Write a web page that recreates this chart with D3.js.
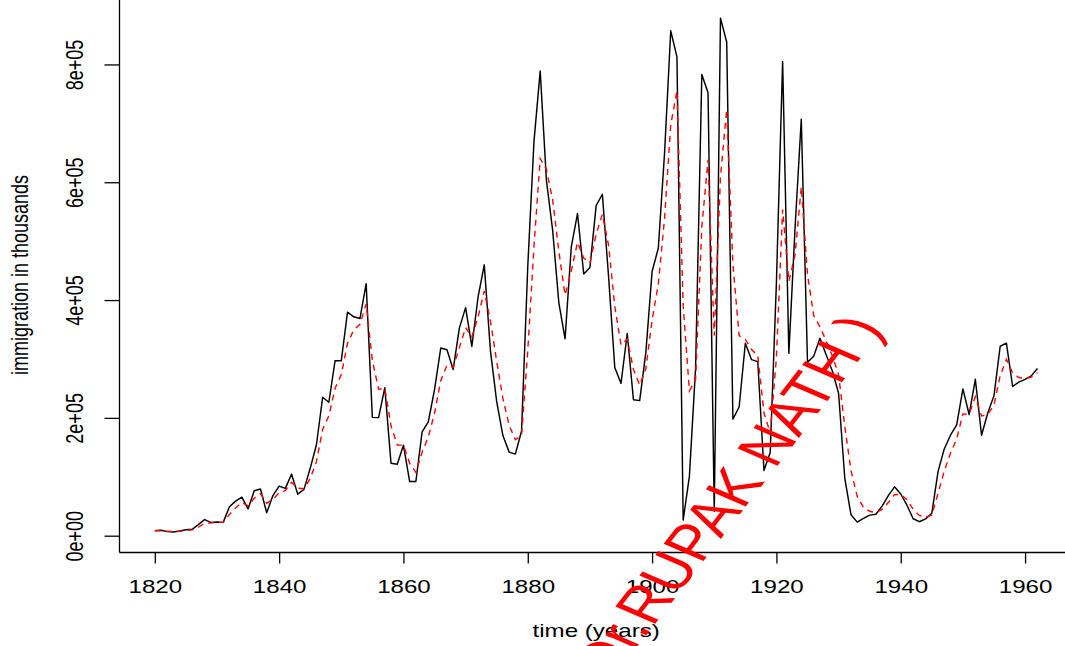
<!DOCTYPE html>
<html>
<head>
<meta charset="utf-8">
<script src="https://cdn.jsdelivr.net/npm/d3@7"></script>
<style>
  html, body { margin: 0; padding: 0; background: #ffffff; }
  svg { display: block; }
  text { font-family: "Liberation Sans", Arial, Helvetica, sans-serif; }
</style>
</head>
<body>
<svg id="chart" width="1065" height="646"></svg>
<script>
// Annual immigration, 1820-1962
const years = [
  1820,1821,1822,1823,1824,1825,1826,1827,1828,1829,
  1830,1831,1832,1833,1834,1835,1836,1837,1838,1839,
  1840,1841,1842,1843,1844,1845,1846,1847,1848,1849,
  1850,1851,1852,1853,1854,1855,1856,1857,1858,1859,
  1860,1861,1862,1863,1864,1865,1866,1867,1868,1869,
  1870,1871,1872,1873,1874,1875,1876,1877,1878,1879,
  1880,1881,1882,1883,1884,1885,1886,1887,1888,1889,
  1890,1891,1892,1893,1894,1895,1896,1897,1898,1899,
  1900,1901,1902,1903,1904,1905,1906,1907,1908,1909,
  1910,1911,1912,1913,1914,1915,1916,1917,1918,1919,
  1920,1921,1922,1923,1924,1925,1926,1927,1928,1929,
  1930,1931,1932,1933,1934,1935,1936,1937,1938,1939,
  1940,1941,1942,1943,1944,1945,1946,1947,1948,1949,
  1950,1951,1952,1953,1954,1955,1956,1957,1958,1959,
  1960,1961,1962
];

// Observed series (solid black)
const immigration = [
  8385,9127,6911,6354,7912,10199,10837,18875,27382,22520,
  23322,22633,49000,58640,65365,45374,76242,79340,38914,68069,
  84066,80289,104565,70500,78615,114371,154416,234968,226527,297024,
  297000,379466,371603,368645,427833,200877,200436,251306,123126,121282,
  153640,91918,91985,176282,193418,248120,318568,315722,282189,352768,
  387203,321350,404806,459803,313339,227498,169986,141857,138469,177826,
  457257,669431,788992,603322,518592,395346,334203,490109,546889,444427,
  455302,560319,579663,439730,285631,258536,343267,230832,229299,311715,
  448572,487918,648743,857046,812870,26499,100735,285349,782870,751786,
  41570,878587,838172,197892,218480,326700,298826,295403,110618,141132,
  430001,805228,309556,522919,706896,294314,304488,335175,307255,279678,
  241700,97139,35576,23068,29470,34956,36329,50244,67895,82998,
  70756,51776,28781,23725,28551,38119,108721,147292,170570,188317,
  249187,205717,265520,170434,208177,237790,321625,326867,253265,260686,
  265398,271344,283763
];

// Smoothed level (red dashed)
const smoothed = [
  8385,8756,7834,7094,7503,8851,9844,14360,20871,21696,
  22509,22571,35786,47213,56289,50832,63537,71439,55177,61623,
  72845,76567,90566,80533,79574,96973,125695,180332,203430,250227,
  273614,326540,349072,358859,393346,297112,248774,250040,186583,153933,
  153787,122853,107419,141851,167635,207878,263223,289473,285831,319300,
  353252,337301,371054,415429,364384,295941,232964,187411,162940,170383,
  313820,491626,640309,621816,570204,482775,408489,449299,498094,471261,
  463282,511801,545732,492731,389181,323859,333563,282198,255749,283732,
  366152,427035,537889,697468,755169,390834,245785,265567,524219,638003,
  339787,609187,723680,460786,339633,333167,315997,305700,208159,174646,
  302324,553776,431666,477293,592095,443205,373847,354511,330883,305281,
  273491,185315,110446,66757,48114,41535,38932,44588,56242,69620,
  70188,60982,44882,34304,31428,34774,71748,109520,140045,164181,
  206684,206201,235861,203148,205663,221727,271676,299272,276269,268478,
  266938,269141,276452
];

const xTicks = [1820, 1840, 1860, 1880, 1900, 1920, 1940, 1960];
const yTicks = [0, 200000, 400000, 600000, 800000];
const yTickLabels = ["0e+00", "2e+05", "4e+05", "6e+05", "8e+05"];
const xTitle = "time (years)";
const yTitle = "immigration in thousands";
const signature = "( Dr.RUPAK NATH )";

// ---- layout ----
const svg = d3.select("#chart");
const textStretch = 1.34;         // glyphs are set wide
const fontPx = 18;
const plotBox = { left: 119.5, right: 1072.8, top: -2.4, bottom: 552.5 };

// R-style 4% padding around the data range
const xExt = d3.extent(years);
const xPad = (xExt[1] - xExt[0]) * 0.04;
const x = d3.scaleLinear()
  .domain([xExt[0] - xPad, xExt[1] + xPad])
  .range([plotBox.left, plotBox.right]);

const yExt = d3.extent(immigration);
const yPad = (yExt[1] - yExt[0]) * 0.04;
const y = d3.scaleLinear()
  .domain([yExt[0] - yPad, yExt[1] + yPad])
  .range([plotBox.bottom, plotBox.top]);

// ---- series ----
const observedPts = years.map((yr, i) => ({ yr, v: immigration[i] }));
const smoothPts = years.map((yr, i) => ({ yr, v: smoothed[i] }));
const line = d3.line().x(d => x(d.yr)).y(d => y(d.v));

svg.append("path")
  .datum(observedPts)
  .attr("d", line)
  .attr("fill", "none")
  .attr("stroke", "#000")
  .attr("stroke-width", 1.45)
  .attr("stroke-linejoin", "round");

svg.append("path")
  .datum(smoothPts)
  .attr("d", line)
  .attr("fill", "none")
  .attr("stroke", "#ff0000")
  .attr("stroke-width", 1.4)
  .attr("stroke-dasharray", "6,5");

// ---- axes ----
const yAxis = svg.append("g")
  .attr("transform", `translate(${plotBox.left},0)`)
  .call(d3.axisLeft(y).tickValues(yTicks).tickSize(15)
        .tickFormat((d, i) => yTickLabels[i]));
yAxis.select(".domain").remove();
yAxis.selectAll(".tick line").attr("stroke", "#000").attr("stroke-width", 1.3);
yAxis.selectAll(".tick text")
  .attr("x", null).attr("dy", null)
  .attr("text-anchor", "middle")
  .attr("font-size", fontPx)
  .attr("font-family", null)
  .attr("fill", "#000")
  .attr("transform", `translate(-36.2,0) scale(${textStretch},1) rotate(-90)`);

const xAxis = svg.append("g")
  .attr("transform", `translate(0,${plotBox.bottom})`)
  .call(d3.axisBottom(x).tickValues(xTicks).tickSize(11).tickFormat(d3.format("d")));
xAxis.select(".domain").remove();
xAxis.selectAll(".tick line").attr("stroke", "#000").attr("stroke-width", 1.3);
xAxis.selectAll(".tick text")
  .attr("y", null).attr("dy", null)
  .attr("font-size", fontPx)
  .attr("font-family", null)
  .attr("fill", "#000")
  .attr("transform", `translate(0,40) scale(${textStretch},1)`);

// left and bottom frame lines
svg.append("line")
  .attr("x1", plotBox.left).attr("x2", plotBox.left)
  .attr("y1", plotBox.top).attr("y2", plotBox.bottom)
  .attr("stroke", "#000").attr("stroke-width", 1.3);
svg.append("line")
  .attr("x1", plotBox.left).attr("x2", plotBox.right)
  .attr("y1", plotBox.bottom).attr("y2", plotBox.bottom)
  .attr("stroke", "#000").attr("stroke-width", 1.3);

// ---- titles ----
svg.append("text")
  .attr("transform", `translate(${(plotBox.left + plotBox.right) / 2},636.5) scale(${textStretch},1)`)
  .attr("text-anchor", "middle")
  .attr("font-size", fontPx)
  .attr("fill", "#000")
  .text(xTitle);

svg.append("text")
  .attr("transform", `translate(28.4,${(plotBox.top + plotBox.bottom) / 2}) scale(${textStretch},1) rotate(-90)`)
  .attr("text-anchor", "middle")
  .attr("font-size", fontPx)
  .attr("fill", "#000")
  .text(yTitle);

// ---- signature ----
svg.append("text")
  .attr("transform", `translate(736.5,518.5) scale(${textStretch},1) rotate(-60)`)
  .attr("text-anchor", "middle")
  .attr("font-size", 50)
  .attr("fill", "#ff0000")
  .text(signature);
</script>
</body>
</html>
